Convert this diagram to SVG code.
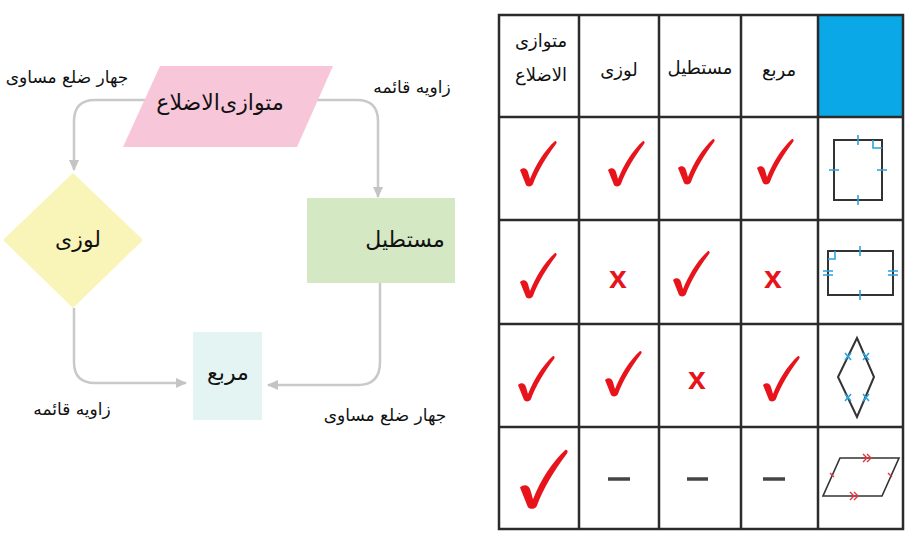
<svg xmlns="http://www.w3.org/2000/svg" width="918" height="538" viewBox="0 0 918 538">
<style>
.t{font-family:"DejaVu Sans",sans-serif;fill:#111;text-anchor:middle;direction:rtl}
.n{font-size:22px}
.l{font-size:17px}
.h{font-size:18px}
.c{fill:none;stroke:#c9c9c9;stroke-width:2.5}
.g{stroke:#2b2b2b;stroke-width:2.5;fill:none}
.s{stroke:#333;stroke-width:2;fill:none}
.b{stroke:#2aa3e0;stroke-width:1.6;fill:none}
.r{stroke:#e8323c;stroke-width:1.4;fill:none}
.x{font-family:"Liberation Sans",sans-serif;font-size:32px;font-weight:bold;fill:#e8141c;text-anchor:middle}
.d{stroke:#444;stroke-width:3.5}
</style>
<defs>
<marker id="ah" markerWidth="12" markerHeight="12" refX="10" refY="6" orient="auto" markerUnits="userSpaceOnUse">
<path d="M0,1 L11,6 L0,11 Z" fill="#c4c4c4"/>
</marker>
<path id="ck" d="M-10,-15 C-7,-18 -3,-17 -2,-13 L0,-6 C6,-21 15,-35 25,-44 C27,-44 27,-42 26,-41 C16,-28 8,-14 3,-1 C2,2 -3,2 -4,0 Z" fill="#e8141c"/>
</defs>

<g id="connectors">
<path class="c" d="M145,100 H95 Q74,100 74,121 V170" marker-end="url(#ah)"/>
<path class="c" d="M300,100 H357 Q378,100 378,121 V197" marker-end="url(#ah)"/>
<path class="c" d="M74,308 V362 Q74,383 95,383 H186" marker-end="url(#ah)"/>
<path class="c" d="M380,283 V362 Q380,385 358,385 H268" marker-end="url(#ah)"/>
</g>

<g id="node-parallelogram">
<polygon points="160,66 333,66 297,147 123,147" fill="#f8c6d9"/>
<text class="t n" x="220" y="110">متوازی‌الاضلاع</text>
</g>
<g id="node-rhombus">
<polygon points="73,173 143,240 73,308 3,240" fill="#f9f5b8"/>
<text class="t n" x="78" y="247">لوزی</text>
</g>
<g id="node-rectangle">
<rect x="307" y="198" width="148" height="85" fill="#d4e8c4"/>
<text class="t n" x="405" y="247">مستطیل</text>
</g>
<g id="node-square">
<rect x="193" y="332" width="69" height="88" fill="#e4f4f3"/>
<text class="t n" x="228" y="380">مربع</text>
</g>

<g id="labels">
<text class="t l" x="67" y="83">جهار ضلع مساوی</text>
<text class="t l" x="412" y="93">زاویه قائمه</text>
<text class="t l" x="72" y="415">زاویه قائمه</text>
<text class="t l" x="385" y="421">جهار ضلع مساوی</text>
</g>

<g id="table">
<rect x="818" y="15" width="85" height="102" fill="#0aa8e6"/>
<g class="g">
<rect x="499" y="15" width="404" height="514"/>
<line x1="579" y1="15" x2="579" y2="529"/>
<line x1="659" y1="15" x2="659" y2="529"/>
<line x1="741" y1="15" x2="741" y2="529"/>
<line x1="818" y1="15" x2="818" y2="529"/>
<line x1="499" y1="117" x2="903" y2="117"/>
<line x1="499" y1="220" x2="903" y2="220"/>
<line x1="499" y1="324" x2="903" y2="324"/>
<line x1="499" y1="427" x2="903" y2="427"/>
</g>
<text class="t h" x="541" y="47">متوازی</text>
<text class="t h" x="541" y="81">الاضلاع</text>
<text class="t h" x="619" y="76">لوزی</text>
<text class="t h" x="700" y="74">مستطیل</text>
<text class="t h" x="779" y="76">مربع</text>

<use href="#ck" x="530" y="185"/>
<use href="#ck" x="618" y="185"/>
<use href="#ck" x="688" y="183"/>
<use href="#ck" x="767" y="183"/>

<use href="#ck" x="530" y="297"/>
<text class="x" x="618" y="288">x</text>
<use href="#ck" x="683" y="295"/>
<text class="x" x="773" y="288">x</text>

<use href="#ck" x="528" y="400"/>
<use href="#ck" x="615" y="395"/>
<text class="x" x="697" y="389">x</text>
<use href="#ck" x="773" y="400"/>

<use href="#ck" transform="translate(533,507) scale(1.3)"/>
<line class="d" x1="608" y1="479" x2="630" y2="479"/>
<line class="d" x1="687" y1="479" x2="708" y2="479"/>
<line class="d" x1="763" y1="479" x2="785" y2="479"/>

<rect class="s" x="834" y="140" width="48" height="60"/>
<path class="b" d="M858,135 V145 M858,195 V205 M829,170 H839 M877,170 H887 M873,140 V148 H882"/>

<rect class="s" x="828" y="251" width="65" height="44"/>
<path class="b" d="M860,246 V256 M860,290 V300 M823,271 H833 M823,275 H833 M888,271 H898 M888,275 H898 M828,259 H835 V251"/>

<polygon class="s" points="857,338 874,377 857,417 838,377"/>
<path class="b" d="M845,353 L851,360 M851,353 L845,360 M863,353 L869,360 M869,353 L863,360 M845,394 L851,401 M851,394 L845,401 M863,394 L869,401 M869,394 L863,401"/>

<polygon points="840,458 899,458 882,496 823,496" fill="none" stroke="#333" stroke-width="1.6"/>
<path class="r" d="M863,454 L867,458 L863,462 M867,454 L871,458 L867,462 M850,492 L854,496 L850,500 M854,492 L858,496 L854,500 M830,473 L834,477 M888,473 L892,477"/>
</g>
</svg>
